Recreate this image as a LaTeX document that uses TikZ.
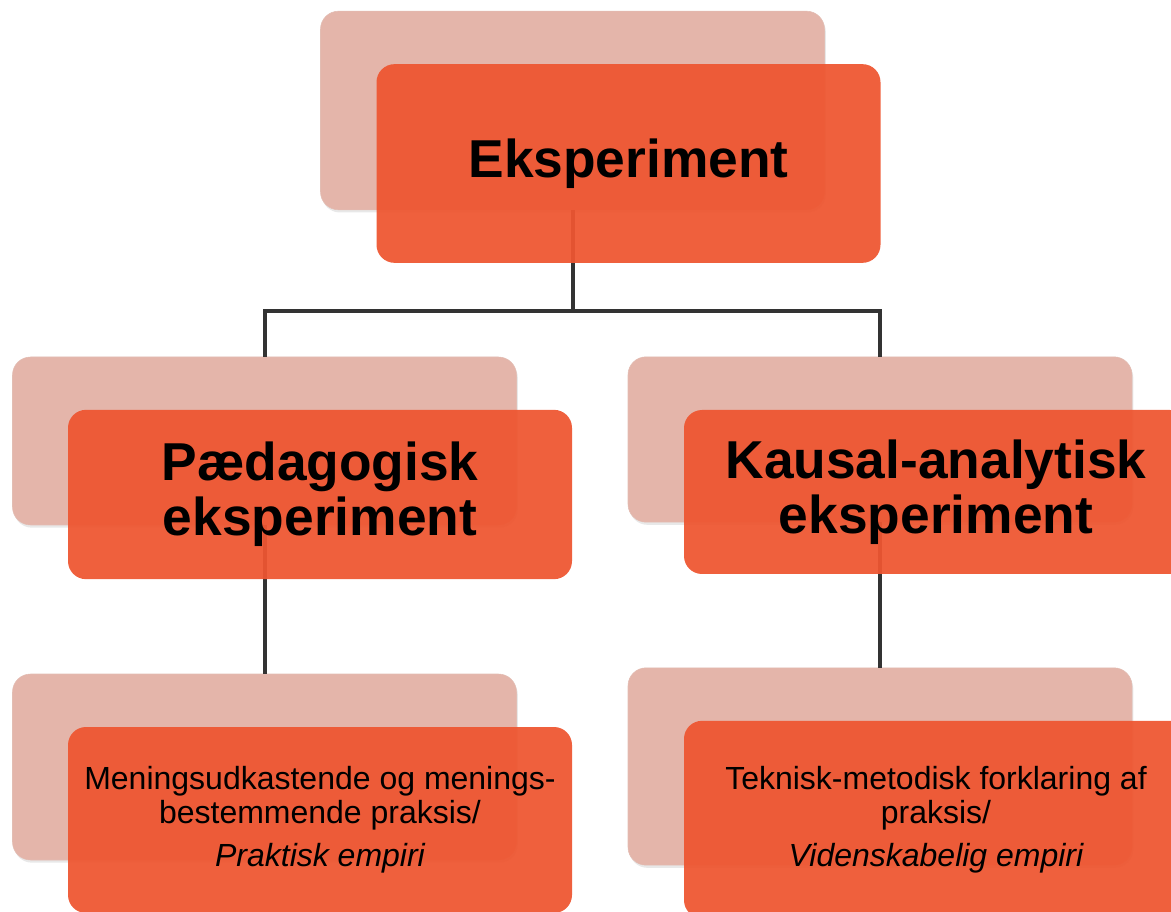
\documentclass[tikz,border=0pt]{standalone}
\usepackage{fontspec}
\setmainfont{Liberation Sans}
\usepackage{tikz}
\usepackage{xcolor}
\usetikzlibrary{shadows}
\definecolor{backpink}{HTML}{E4B5AA}
\definecolor{backedge}{HTML}{E2BDB3}
\definecolor{frontred}{HTML}{EE5631}
\definecolor{linegray}{HTML}{333333}
\tikzset{
    back-box/.style = {draw=backedge, fill=backpink, thin, rectangle, rounded corners=13.5pt, minimum width=378pt, inner sep=0pt,
        drop shadow={opacity=0.18, shadow xshift=1pt, shadow yshift=-2pt}},
    front-box/.style = {fill=frontred, fill opacity=0.94, text opacity=1, rectangle, rounded corners=13.5pt, minimum width=378pt, inner sep=0pt, align=center},
    front-title/.style = {font=\bfseries\fontsize{40}{41}\selectfont},
    front-text/.style = {font=\fontsize{24}{25.5}\selectfont},
    connector/.style = {draw=linegray, line width=3pt},
}

\begin{document}
\begin{tikzpicture}[x=0.75pt,y=-0.75pt]
\useasboundingbox (0,0) rectangle (1171,912);
\clip (0,0) rectangle (1171,912);
\node [back-box, minimum height=149pt] (eks-back) at (572.5,110.5) {};
\node [back-box, minimum height=126pt] (paed-back) at (264.5,441) {};
\node [back-box, minimum height=124pt] (kaus-back) at (880,439.5) {};
\node [back-box, minimum height=139.5pt] (prak-back) at (264.5,767) {};
\node [back-box, minimum height=148pt] (vid-back) at (880,766.5) {};

\coordinate (split) at (572.5,311);
\draw [connector] (eks-back.south) -- (split) -| (paed-back.north);
\draw [connector] (split) -| (kaus-back.north);
\draw [connector] (paed-back.south) -- (prak-back.north);
\draw [connector] (kaus-back.south) -- (vid-back.north);

\node [front-box, front-title, minimum height=149pt] (eks) at (628.5,163.5) {Eksperiment};
\node [front-box, front-title, minimum height=127pt] (paed) at (320,494.5) {Pædagogisk\\eksperiment};
\node [front-box, front-title, minimum height=123pt] (kaus) at (936,492) {Kausal-analytisk\\eksperiment};
\node [front-box, front-text, minimum height=139.5pt] (prak) at (320,820) {Meningsudkastende og menings-\\bestemmende praksis/\\[7pt]\itshape Praktisk empiri};
\node [front-box, front-text, minimum height=148pt] (vid) at (936,819.5) {Teknisk-metodisk forklaring af\\praksis/\\[7pt]\itshape Videnskabelig empiri};
\end{tikzpicture}
\end{document}
